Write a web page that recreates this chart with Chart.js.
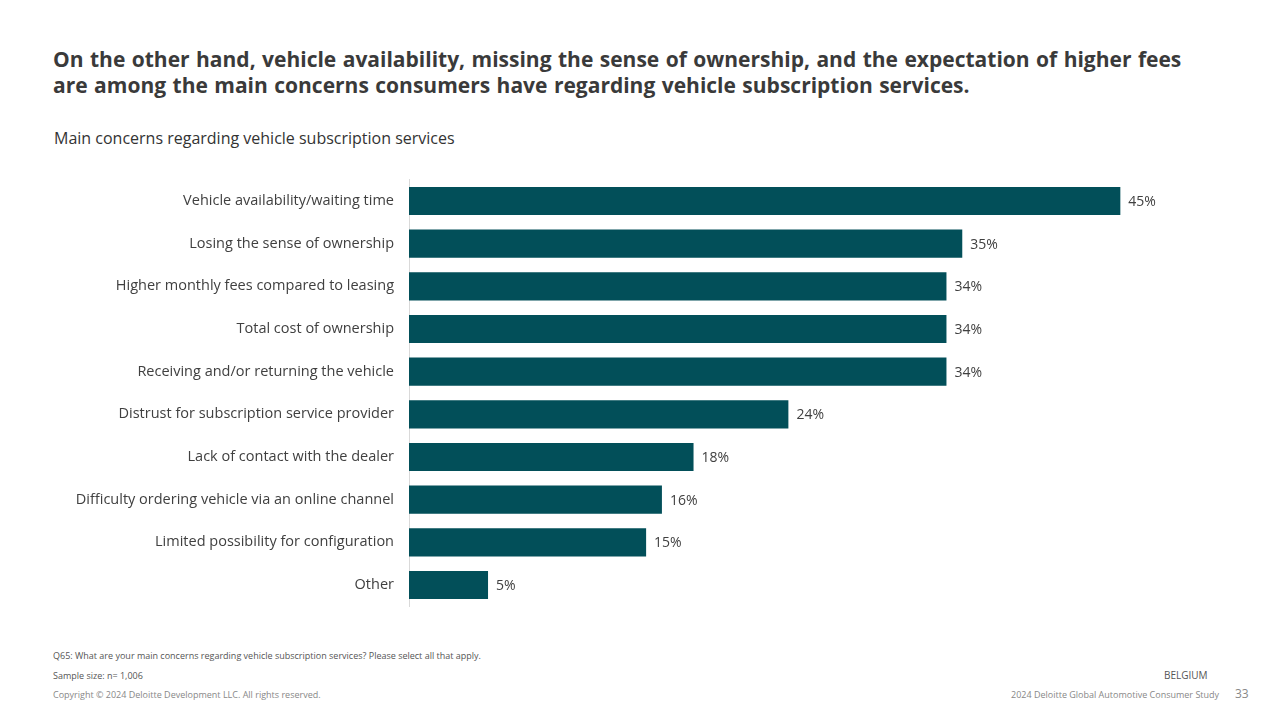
<!DOCTYPE html>
<html><head><meta charset="utf-8">
<script src="https://cdn.jsdelivr.net/npm/chart.js@4"></script>
<style>
body{margin:0;width:1280px;height:720px;background:#fff;font-family:"Open Sans",sans-serif;position:relative;overflow:hidden;color:#404040}
.t{position:absolute;left:53px;top:46px;font-size:21px;font-weight:700;line-height:26px;width:1150px;color:#3a3a3a;word-spacing:1px}
.s{position:absolute;left:54px;top:127px;font-size:16px;color:#333}
.f{position:absolute;font-size:9px;color:#555}
#c{position:absolute;left:0;top:156px}
</style></head><body>
<div class="t">On the other hand, vehicle availability, missing the sense of ownership, and the expectation of higher fees are among the main concerns consumers have regarding vehicle subscription services.</div>
<div class="s">Main concerns regarding vehicle subscription services</div>
<canvas id="c" width="1280" height="474" style="width:1280px;height:474px"></canvas>
<div class="f" style="left:53px;top:649px">Q65: What are your main concerns regarding vehicle subscription services? Please select all that apply.</div>
<div class="f" style="left:53px;top:669px">Sample size: n= 1,006</div>
<div class="f" style="left:53px;top:688px;color:#888">Copyright © 2024 Deloitte Development LLC. All rights reserved.</div>
<div class="f" style="left:1164px;top:668px;font-size:10px">BELGIUM</div>
<div class="f" style="left:1011px;top:688px;color:#888">2024 Deloitte Global Automotive Consumer Study</div>
<div class="f" style="left:1235px;top:685px;font-size:12px;color:#888">33</div>
<script>
const categories=["Vehicle availability/waiting time","Losing the sense of ownership","Higher monthly fees compared to leasing","Total cost of ownership","Receiving and/or returning the vehicle","Distrust for subscription service provider","Lack of contact with the dealer","Difficulty ordering vehicle via an online channel","Limited possibility for configuration","Other"];
const values=[45,35,34,34,34,24,18,16,15,5];
const labelsPlugin={id:'lbl',afterDatasetsDraw(ch){const c=ch.ctx;const m=ch.getDatasetMeta(0);c.save();c.font='14px "Open Sans"';c.fillStyle='#404040';c.textBaseline='middle';m.data.forEach((b,i)=>c.fillText(values[i]+'%',b.x+8,b.y+1));c.restore();}};
new Chart(document.getElementById('c'),{type:'bar',data:{labels:categories,datasets:[{data:values,backgroundColor:'#024f59',barPercentage:0.66,categoryPercentage:1}]},
options:{indexAxis:'y',responsive:false,devicePixelRatio:1,animation:false,layout:{padding:0},
plugins:{legend:{display:false},tooltip:{enabled:false}},
scales:{x:{display:false,min:0,max:55.1},
y:{afterFit(s){s.width=409;},grid:{display:false,drawTicks:false},border:{color:'#d9d9d9'},ticks:{padding:15,color:'#404040',font:{family:'Open Sans',size:14.5}}}}},
plugins:[labelsPlugin]});
</script></body></html>
